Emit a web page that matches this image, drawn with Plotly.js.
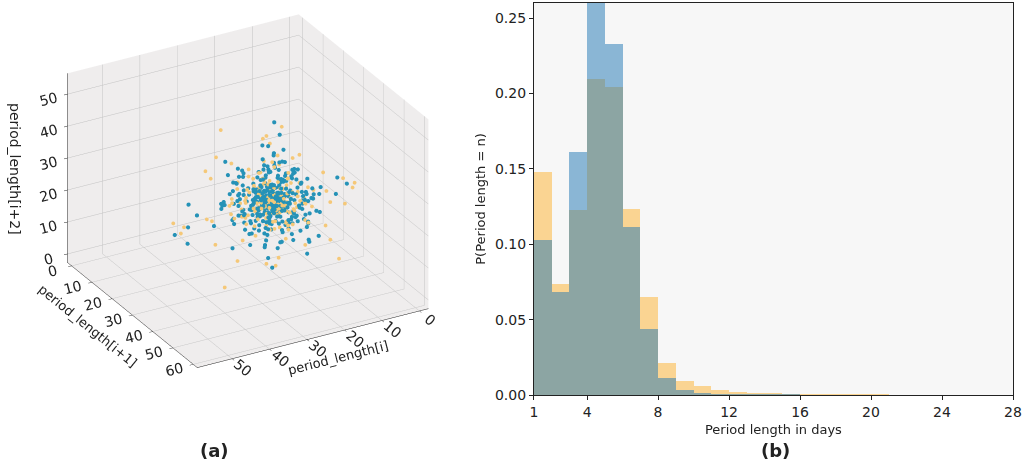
<!DOCTYPE html>
<html>
<head>
<meta charset="utf-8">
<script src="https://cdn.plot.ly/plotly-3.0.1.min.js"></script>
<style>
  html, body { margin: 0; padding: 0; background: #ffffff; }
  #chart { width: 1024px; height: 463px; }
</style>
</head>
<body>
<div id="chart"></div>
<script>
// (a) consecutive period lengths, [i, i+1, i+2]
const bluePts = [
  [21,28,20],[20,29,20],[22,27,22],[19,28,19],[23,29,20],[21,26,21],[20,27,19],[22,30,21],[21,29,18],[19,27,22],
  [24,28,19],[20,31,20],[21,27,23],[18,28,20],[21,25,19],[22,28,17],[23,31,21],[19,26,20],[22,29,21],[20,28,22],
  [17,27,21],[23,26,20],[21,30,19],[20,26,18],[24,30,22],[18,26,19],[22,31,20],[19,29,23],[23,28,24],[21,32,21],
  [25,29,20],[20,30,18],[19,31,19],[22,26,23],[24,27,18],[18,29,22],[21,24,20],[17,28,18],[23,30,17],[20,25,21],
  [26,28,21],[21,33,20],[22,28,25],[19,24,19],[16,27,20],[20,23,18],[21,27,15],[25,31,19],[24,32,22],[23,27,23],
  [18,30,20],[22,25,18],[19,30,21],[23,25,22],[21,31,23],[24,29,23],[17,25,20],[20,24,22],[22,32,19],[25,27,22],
  [15,28,19],[21,22,21],[20,28,14],[27,29,20],[22,34,19],[21,29,26],[18,25,17],[24,31,23],[19,32,20],[25,26,21],
  [20,32,22],[23,24,19],[17,30,21],[26,30,19],[23,33,21],[22,30,25],[16,25,19],[18,23,21],[20,29,16],[24,26,24],
  [19,27,17],[22,27,19],[21,28,22],[20,30,22],[23,29,18],[19,25,22],[18,27,23],[22,24,21],[17,29,19],[24,28,22],
  [21,31,18],[23,32,20],[25,30,23],[20,27,24],[19,28,25],[26,27,20],[21,26,16],[17,26,17],[15,26,21],[22,22,19],
  [28,30,21],[23,35,20],[22,30,27],[16,29,22],[22,23,20],[23,29,15],[14,27,20],[20,21,21],[21,27,13],[27,32,22],
  [25,34,21],[23,32,26],[18,31,24],[24,25,23],[25,31,17],[19,33,22],[26,26,23],[23,26,25],[17,24,19],[20,24,16],
  [21,30,23],[24,30,20],[22,26,19],[19,29,18],[20,26,21],[23,28,21],[21,29,22],[22,30,20],[19,26,23],[24,26,18],
  [29,29,19],[22,36,22],[20,29,28],[13,28,21],[21,20,19],[22,28,12],[26,33,23],[16,23,18],[28,27,24],[20,35,23],
  [12,27,18],[14,30,17],[15,24,23],[16,31,16],[17,22,18],[18,33,19],[19,21,22],[20,34,17],[21,19,19],[22,35,18],
  [23,22,16],[24,33,17],[25,23,19],[26,31,16],[27,25,18],[28,33,19],[29,24,20],[30,31,18],[31,27,17],[19,36,19],
  [17,34,21],[15,32,20],[13,30,22],[14,25,24],[16,22,22],[18,20,20],[20,19,23],[23,20,21],[25,21,23],[27,23,22],
  [29,27,23],[30,30,21],[28,35,22],[26,36,20],[24,37,19],[22,38,20],[20,37,21],[18,36,22],[16,35,23],[14,33,21],
  [17,29,13],[20,26,12],[23,28,11],[19,31,14],[22,24,14],[25,29,13],[21,33,14],[18,27,26],[21,25,27],[24,28,28],
  [19,30,27],[22,33,26],[17,26,25],[15,29,26],[20,23,25],[23,31,27],[26,29,26],[18,32,16],[24,24,15],[16,27,15],
  [21,28,18],[20,29,21],[22,27,20],[19,27,20],[21,30,22],[23,27,21],[20,28,18],[22,29,23],[19,29,20],[21,27,19],
  [24,30,19],[20,31,22],[23,31,18],[18,28,18],[22,26,21],[21,25,22],[19,30,22],[23,26,18],[20,27,22],[22,28,19],
  [14,22,24],[16,20,26],[18,24,28],[13,26,27],[15,34,24],[12,32,22],[17,36,25],[19,38,23],[24,36,24],[26,34,25],
  [28,32,24],[30,28,25],[29,22,22],[27,20,24],[25,18,22],[23,17,25],[20,17,20],[16,18,23],[12,24,20],[11,29,19],
  [10,31,21],[12,35,18],[14,37,20],[18,39,21],[21,39,23],[25,38,22],[27,36,18],[30,34,20],[31,30,23],[32,25,21],
  [31,22,19],[29,19,18],[26,18,20],[22,16,18],[19,17,17],[15,20,19],[13,21,17],[11,26,16],[10,28,18],[12,30,15],
  [14,33,14],[16,36,15],[20,36,14],[23,37,16],[26,35,15],[28,31,14],[30,26,15],[28,22,14],[25,20,13],[21,21,12],
  [17,22,13],[14,25,12],[13,29,13],[15,31,11],[18,33,10],[22,34,11],[25,32,10],[27,28,12],[26,24,11],[23,23,10],
  [19,24,9],[16,27,10],[20,31,9],[24,30,8],[22,27,8],[18,29,28],[21,31,30],[24,27,30],[20,24,29],[16,30,29],
  [22,26,31],[19,28,32],[23,30,32],[20,27,34],[21,29,36],[22,28,38],[19,30,37],[24,29,35],[17,27,31],[25,31,30],
  [13,24,25],[15,22,28],[27,33,28],[29,25,27],[11,27,24],[28,34,27],[14,35,26],[26,21,26],[31,33,22],[12,21,22],
  [18,21,25],[23,35,25],[16,33,27],[26,23,27],[20,22,27],[24,33,29],[17,24,27],[27,30,27],[21,35,28],[15,27,28],
  [20,28,20],[21,28,21],[22,28,20],[20,29,19],[21,27,20],[22,29,21],[20,28,21],[21,29,19],[22,27,21],[21,28,19],
  [19,28,19],[23,28,20],[21,30,21],[20,26,20],[22,30,19],[19,29,21],[23,29,22],[20,27,20],[21,26,19],[22,31,21],
  [31,30,20],[34,27,23],[37,29,18],[41,28,22],[45,31,21],[22,40,20],[20,44,22],[22,48,19],[24,52,21],[21,29,33],
  [23,27,38],[20,30,42],[22,31,47],[8,28,21],[5,30,19],[3,27,22],[21,14,22],[23,10,20],[20,29,6],[22,28,3],
  [32,38,22],[34,35,28],[28,42,26],[11,20,22],[13,18,19],[38,40,17],[29,26,32],[18,37,30],[48,30,19],[26,50,27],
  [1,28,20],[21,5,21],[22,30,1],[36,45,20],[15,40,14],[40,22,22],[8,15,20],[28,16,14],[17,38,8],[50,40,22]
];
const orangePts = [
  [21,28,19],[22,28,21],[20,28,20],[21,30,20],[23,28,19],[20,27,21],[22,29,19],[19,28,21],[21,26,20],[24,29,20],
  [21,29,23],[22,31,22],[18,27,20],[20,25,19],[21,28,17],[23,30,22],[19,26,18],[25,28,21],[22,32,20],[21,27,24],
  [17,28,19],[21,24,21],[20,29,16],[26,29,20],[22,33,21],[21,29,25],[19,30,19],[23,26,22],[20,31,21],[24,27,23],
  [16,28,20],[21,23,19],[22,27,15],[27,30,21],[23,34,20],[22,28,26],[18,29,18],[22,25,22],[19,25,21],[25,32,22],
  [15,27,21],[20,22,20],[23,29,14],[28,28,22],[21,35,21],[23,28,27],[17,26,22],[24,31,19],[20,32,23],[25,27,18],
  [14,29,19],[22,21,22],[20,30,13],[29,31,20],[24,36,21],[21,31,28],[18,24,20],[17,31,17],[26,25,24],[19,33,19],
  [13,26,20],[19,20,21],[21,27,11],[30,29,23],[22,37,19],[24,29,29],[16,24,21],[25,34,25],[27,26,16],[18,34,22],
  [15,30,18],[17,33,20],[19,35,21],[26,24,20],[28,26,19],[23,23,23],[20,33,16],[22,35,23],[24,34,18],[16,26,23],
  [14,31,21],[27,28,25],[29,28,18],[21,36,17],[18,22,19],[26,31,27],[17,30,26],[20,25,25],[23,33,15],[19,23,16],
  [21,29,20],[20,27,18],[22,30,22],[19,29,22],[23,27,20],[21,26,18],[20,30,19],[24,28,21],[22,29,17],[21,31,21],
  [14,23,23],[16,35,22],[27,34,23],[29,23,21],[12,28,17],[25,37,20],[18,19,22],[30,32,18],[13,33,19],[28,20,17],
  [15,25,26],[24,22,26],[19,37,26],[26,28,29],[11,30,22],[17,21,16],[22,38,17],[29,30,25],[14,27,13],[24,25,12],
  [20,33,11],[27,31,13],[18,26,30],[22,31,33],[16,29,33],[25,29,31],[21,24,31],[19,32,29],[23,26,29],[20,29,35],
  [13,31,24],[15,21,19],[26,36,24],[30,25,21],[28,34,20],[17,37,18],[12,25,22],[31,28,18],[27,22,23],[19,18,19],
  [21,28,20],[20,29,21],[22,28,22],[21,27,21],[20,30,20],[22,29,20],[19,27,19],[23,30,21],[21,29,22],[20,28,19],
  [18,30,23],[24,27,19],[22,26,20],[19,31,20],[23,29,18],[20,26,22],[21,32,19],[22,27,22],[18,28,21],[24,30,21],
  [33,30,21],[37,28,19],[40,31,22],[45,29,20],[23,42,21],[21,46,23],[24,50,19],[20,55,22],[22,30,34],[21,27,38],
  [23,29,42],[20,31,45],[7,29,20],[2,28,22],[0,30,21],[22,13,19],[21,8,22],[23,29,2],[20,28,0],[38,45,22],
  [33,20,27],[13,42,25],[31,35,37],[11,36,14],[35,26,10],[18,18,34],[41,48,18],[28,52,32],[43,20,16],[8,40,22],
  [3,20,20],[29,10,23],[23,35,7],[48,33,21],[26,12,36],[15,50,12],[39,38,4],[5,12,22],[37,30,40],[0,29,19]
];

// (b) normalised histogram, bins of one day starting at binLeft
const binLeft = [1,2,3,4,5,6,7,8,9,10,11,12,13,14,15,16,17,18,19,20];
const blueP = [0.1028,0.0684,0.1613,0.263,0.2326,0.1112,0.0441,0.011,0.0033,0.001,
               0.0005,0.0003,0.0002,0.0001,0.0001,0,0,0,0,0];
const orangeP = [0.1478,0.0733,0.1229,0.2096,0.2045,0.1233,0.0649,0.0214,0.0093,0.006,
                 0.003,0.0017,0.001,0.0008,0.0006,0.0004,0.0003,0.0002,0.0002,0.0001];
const xTicks = [1,4,8,12,16,20,24,28];
const yTicks = [0,0.05,0.10,0.15,0.20,0.25];

const axisFont = { family: 'DejaVu Sans', size: 14, color: '#222' };

const sceneAxis = (title, range) => ({
  title: { text: title, font: { family: 'DejaVu Sans', size: 13, color: '#222' } },
  range: range,
  dtick: 10,
  tickfont: { family: 'DejaVu Sans', size: 13, color: '#222' },
  showbackground: true,
  backgroundcolor: '#efeded',
  showgrid: true,
  gridcolor: '#c2c2c2',
  gridwidth: 1,
  showline: true,
  linecolor: '#222',
  zeroline: false,
  ticks: 'outside',
  ticklen: 4,
  tickcolor: '#222',
  showspikes: false,
});

const data = [
  {
    type: 'scatter3d', mode: 'markers',
    x: orangePts.map(p => p[0]), y: orangePts.map(p => p[1]), z: orangePts.map(p => p[2]),
    marker: { size: 2.2, color: '#f5c878', opacity: 1 },
    scene: 'scene', showlegend: false, hoverinfo: 'skip',
  },
  {
    type: 'scatter3d', mode: 'markers',
    x: bluePts.map(p => p[0]), y: bluePts.map(p => p[1]), z: bluePts.map(p => p[2]),
    marker: { size: 2.4, color: '#2592b7', opacity: 1 },
    scene: 'scene', showlegend: false, hoverinfo: 'skip',
  },
  {
    type: 'bar', x: binLeft, y: orangeP, offset: 0, width: 1,
    marker: { color: '#fdb22f', line: { width: 0 } }, opacity: 0.5,
    xaxis: 'x', yaxis: 'y', showlegend: false,
  },
  {
    type: 'bar', x: binLeft, y: blueP, offset: 0, width: 1,
    marker: { color: '#1f77b4', line: { width: 0 } }, opacity: 0.5,
    xaxis: 'x', yaxis: 'y', showlegend: false,
  },
];

const zTitle = sceneAxis('', [-2.7, 56.5]);
zTitle.title = { text: '' };

const layout = {
  width: 1024, height: 463,
  margin: { t: 3, l: 0, r: 11, b: 68 },
  paper_bgcolor: '#ffffff',
  plot_bgcolor: '#f7f7f7',
  barmode: 'overlay',
  bargap: 0,
  font: { family: 'DejaVu Sans', color: '#222' },
  scene: {
    domain: { x: [0.02, 0.47], y: [0.04, 1] },
    xaxis: sceneAxis('period_length[i]', [-2.4, 59.3]),
    yaxis: sceneAxis('period_length[i+1]', [-2, 62]),
    zaxis: zTitle,
    aspectmode: 'manual',
    aspectratio: { x: 1.41, y: 1.41, z: 1.13 },
    camera: {
      eye: { x: 0.545, y: 0.971, z: 0.568 },
      center: { x: 0, y: 0, z: 0 },
      projection: { type: 'orthographic' },
    },
  },
  xaxis: {
    domain: [0.527, 1],
    range: [1, 28],
    tickvals: xTicks,
    ticktext: xTicks.map(String),
    tickfont: axisFont,
    ticks: 'outside', ticklen: 4, tickcolor: '#222',
    showgrid: false, zeroline: false,
    showline: true, linecolor: '#222', linewidth: 1, mirror: true,
    title: { text: 'Period length in days', font: { family: 'DejaVu Sans', size: 13, color: '#222' }, standoff: 6 },
  },
  yaxis: {
    range: [0, 0.26],
    tickvals: yTicks,
    ticktext: yTicks.map(v => v.toFixed(2)),
    tickfont: axisFont,
    ticks: 'outside', ticklen: 4, tickcolor: '#222',
    showgrid: false, zeroline: false,
    showline: true, linecolor: '#222', linewidth: 1, mirror: true,
    title: { text: 'P(Period length = n)', font: { family: 'DejaVu Sans', size: 13, color: '#222' }, standoff: 6 },
  },
  annotations: [
    { text: '<b>(a)</b>', x: 214, y: 450, xref: 'paper', yref: 'paper', showarrow: false,
      xanchor: 'center', yanchor: 'middle',
      font: { family: 'DejaVu Sans', size: 18, color: '#222' } },
    { text: '<b>(b)</b>', x: 775, y: 450, xref: 'paper', yref: 'paper', showarrow: false,
      xanchor: 'center', yanchor: 'middle',
      font: { family: 'DejaVu Sans', size: 18, color: '#222' } },
    { text: 'period_length[i+2]', x: 15, y: 169, xref: 'paper', yref: 'paper', showarrow: false,
      xanchor: 'center', yanchor: 'middle', textangle: 90,
      font: { family: 'DejaVu Sans', size: 14, color: '#222' } },
  ],
};

// place the labels in pixel terms of the figure
const plotW = 1024 - layout.margin.l - layout.margin.r;
const plotH = 463 - layout.margin.t - layout.margin.b;
layout.annotations.forEach(a => {
  a.x = (a.x - layout.margin.l) / plotW;
  a.y = (463 - a.y - layout.margin.b) / plotH;
});

Plotly.newPlot('chart', data, layout, { displayModeBar: false, responsive: false });
</script>
</body>
</html>
